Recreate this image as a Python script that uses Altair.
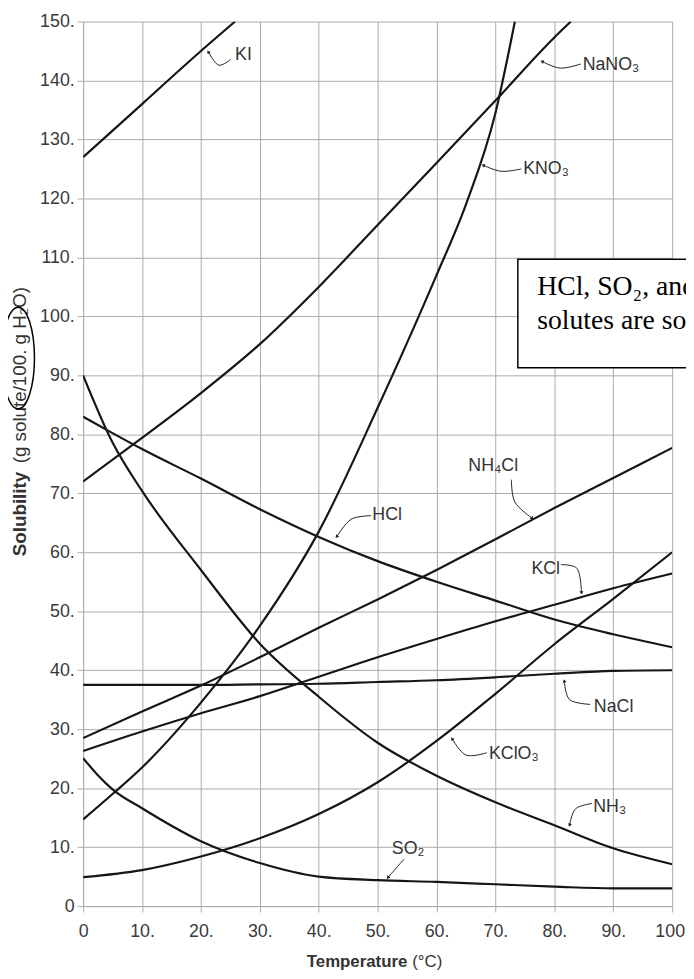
import math
import altair as alt
import pandas as pd

# ---------------- data ----------------
T10 = [0, 10, 20, 30, 40, 50, 60, 70, 80, 90, 100]

KI_t = [0, 10, 20, 25.8]
KI_v = [127, 136, 145, 150]

NaNO3_t = [0, 10, 20, 30, 40, 50, 60, 70, 80, 82.8]
NaNO3_v = [72, 79.4, 87.0, 95.3, 105, 115.5, 126, 136.6, 147.3, 150]

KNO3_t = [0, 5, 10, 20, 30, 40, 50, 60, 65, 70, 73.3]
KNO3_v = [14.7, 19.0, 23.5, 34.5, 47.5, 63.5, 84.5, 107, 119, 134.5, 150]

NH4Cl_t = T10
NH4Cl_v = [28.5, 33, 37.4, 42.2, 47.2, 52, 57, 62.2, 67.5, 72.6, 77.7]

KCl_t = T10
KCl_v = [26.3, 29.6, 32.7, 35.6, 38.9, 42.2, 45.3, 48.3, 51.1, 53.9, 56.4]

HCl_t = [0, 5, 10, 20, 30, 40, 50, 60, 70, 80, 90, 100]
HCl_v = [83, 80.2, 77.5, 72.5, 67.3, 62.6, 58.5, 55, 51.8, 48.6, 46.1, 43.9]

NaCl_t = T10
NaCl_v = [37.5, 37.5, 37.5, 37.6, 37.7, 38.0, 38.3, 38.8, 39.4, 39.9, 40.0]

KClO3_t = T10
KClO3_v = [4.9, 6.1, 8.4, 11.5, 15.6, 21, 28, 36, 44.4, 52.1, 60]

NH3_t = [0, 5, 10, 20, 30, 40, 50, 60, 70, 80, 90, 100]
NH3_v = [90, 78.6, 70.4, 57, 44.5, 35.5, 27.7, 22.1, 17.6, 13.7, 9.8, 7.1]

SO2_t = [0, 2.5, 5, 10, 20, 30, 40, 50, 60, 70, 80, 90, 100]
SO2_v = [25.1, 22.2, 19.8, 16.6, 11, 7.3, 5.0, 4.4, 4.1, 3.7, 3.3, 3.0, 3.0]

series = {
    "KI": (KI_t, KI_v), "NaNO3": (NaNO3_t, NaNO3_v), "KNO3": (KNO3_t, KNO3_v),
    "NH4Cl": (NH4Cl_t, NH4Cl_v), "KCl": (KCl_t, KCl_v), "HCl": (HCl_t, HCl_v),
    "NaCl": (NaCl_t, NaCl_v), "KClO3": (KClO3_t, KClO3_v), "NH3": (NH3_t, NH3_v),
    "SO2": (SO2_t, SO2_v),
}

# curve labels (text, left-baseline position in data units)
label_names = ["KI", "NaNO\u2083", "KNO\u2083", "NH\u2084Cl", "HCl", "KCl", "NaCl", "KClO\u2083", "NH\u2083", "SO\u2082"]
label_t = [25.8, 84.8, 74.7, 65.4, 49.1, 76.1, 86.7, 68.9, 86.6, 52.4]
label_v = [143.5, 141.8, 124.1, 73.7, 65.4, 56.4, 32.9, 24.9, 15.9, 8.9]

# leader arrows (3 points each, tail -> head)
arrow_paths = [
    [(25.1, 143.6), (23.0, 142.6), (21.3, 144.8)],
    [(84.5, 142.8), (81.0, 142.1), (78.0, 143.2)],
    [(74.4, 125.0), (71.0, 124.6), (68.0, 125.6)],
    [(72.7, 72.3), (73.3, 68.5), (76.2, 65.8)],
    [(48.9, 66.2), (45.5, 65.6), (43.1, 62.7)],
    [(81.1, 57.9), (83.9, 57.2), (84.6, 53.2)],
    [(86.1, 34.2), (82.6, 35.0), (81.7, 38.1)],
    [(68.5, 26.0), (65.0, 25.6), (62.7, 28.3)],
    [(86.4, 17.4), (83.6, 16.5), (82.6, 13.8)],
    [(54.5, 8.0), (53.2, 6.5), (51.8, 4.9)],
]

box_lines = ["HCl, SO\u2082, and NH\u2083 are gases; all other", "solutes are solids."]

# ---------------- layout ----------------
W, H = 596, 895
PX_T = W / 100.0
PX_V = H / 150.0

rows = []
for name, (ts, vs) in series.items():
    for t, v in zip(ts, vs):
        rows.append({"solute": name, "t": t, "v": v})
curves_df = pd.DataFrame(rows)

arows, heads = [], []
for i, path in enumerate(arrow_paths):
    for j, (t, v) in enumerate(path):
        arows.append({"id": i, "k": j, "t": t, "v": v})
    (t2, v2), (t3, v3) = path[-2], path[-1]
    dx = (t3 - t2) * PX_T
    dy = -(v3 - v2) * PX_V
    ang = math.degrees(math.atan2(dx, -dy)) % 360
    heads.append({"t": t3, "v": v3, "ang": ang})
arrows_df = pd.DataFrame(arows)
heads_df = pd.DataFrame(heads)
labels_df = pd.DataFrame({"name": label_names, "t": label_t, "v": label_v})

xs = alt.Scale(domain=[0, 100], nice=False, zero=False)
ys = alt.Scale(domain=[0, 150], nice=False, zero=False)

GRID = "#ababab"
AX_FONT = "Liberation Sans"

xaxis = alt.Axis(values=T10, labelExpr="datum.value == 0 ? '0' : datum.value + '.'",
                 title=None, grid=True, gridColor=GRID, gridWidth=1, domainColor=GRID,
                 tickColor=GRID, tickSize=6, labelFont=AX_FONT, labelFontSize=18,
                 labelColor="#3a3a3a", labelPadding=11, labelFlush=False)
yaxis = alt.Axis(values=list(range(0, 151, 10)),
                 labelExpr="datum.value == 0 ? '0' : datum.value + '.'",
                 title=None, grid=True, gridColor=GRID, gridWidth=1, domainColor=GRID,
                 tickColor=GRID, tickSize=6, labelFont=AX_FONT, labelFontSize=18,
                 labelColor="#3a3a3a", labelPadding=3)

curves = alt.Chart(curves_df).mark_line(
    color="#161616", strokeWidth=2.2, interpolate="monotone", clip=True
).encode(
    x=alt.X("t:Q", scale=xs, axis=xaxis),
    y=alt.Y("v:Q", scale=ys, axis=yaxis),
    detail="solute:N",
)

arrows = alt.Chart(arrows_df).mark_line(
    color="#222222", strokeWidth=1, interpolate="cardinal"
).encode(
    x=alt.X("t:Q", scale=xs), y=alt.Y("v:Q", scale=ys),
    detail="id:N", order="k:Q",
)

heads_layer = alt.Chart(heads_df).mark_point(
    shape="triangle", filled=True, size=16, color="#222222", opacity=1
).encode(
    x=alt.X("t:Q", scale=xs), y=alt.Y("v:Q", scale=ys), angle=alt.Angle("ang:Q", scale=None),
)

labels = alt.Chart(labels_df).mark_text(
    align="left", baseline="alphabetic", font=AX_FONT, fontSize=18, color="#333333"
).encode(
    x=alt.X("t:Q", scale=xs), y=alt.Y("v:Q", scale=ys), text="name:N",
)

box_df = pd.DataFrame({"t": [73.8], "t2": [115.0], "v": [91.3], "v2": [109.7]})
box = alt.Chart(box_df).mark_rect(
    fill="white", stroke="black", strokeWidth=1.5
).encode(
    x=alt.X("t:Q", scale=xs), x2="t2:Q", y=alt.Y("v:Q", scale=ys), y2="v2:Q",
)

box_text_df = pd.DataFrame({"txt": box_lines, "t": [77.1, 77.1], "v": [103.6, 97.9]})
box_text = alt.Chart(box_text_df).mark_text(
    align="left", baseline="alphabetic", font="Liberation Serif", fontSize=28, color="black"
).encode(
    x=alt.X("t:Q", scale=xs), y=alt.Y("v:Q", scale=ys), text="txt:N",
)

ytitle1 = alt.Chart(pd.DataFrame({"s": ["Solubility"]})).mark_text(
    angle=270, align="left", baseline="alphabetic", font=AX_FONT, fontSize=19,
    fontWeight="bold", color="#333333"
).encode(x=alt.value(-58), y=alt.value(541), text="s:N")

ytitle2 = alt.Chart(pd.DataFrame({"s": ["(g solute/100. g H\u2082O)"]})).mark_text(
    angle=270, align="left", baseline="alphabetic", font=AX_FONT, fontSize=19,
    color="#333333"
).encode(x=alt.value(-58), y=alt.value(447), text="s:N")

xtitle1 = alt.Chart(pd.DataFrame({"s": ["Temperature"]})).mark_text(
    align="right", baseline="alphabetic", font=AX_FONT, fontSize=17,
    fontWeight="bold", color="#333333"
).encode(x=alt.value(328), y=alt.value(957), text="s:N")

xtitle2 = alt.Chart(pd.DataFrame({"s": ["(\u00b0C)"]})).mark_text(
    align="left", baseline="alphabetic", font=AX_FONT, fontSize=17, color="#333333"
).encode(x=alt.value(333), y=alt.value(957), text="s:N")

ellipse = alt.Chart(pd.DataFrame({"s": [1]})).mark_point(
    shape="M0,-1 A0.32,1 0 1,1 0,1 A0.32,1 0 1,1 0,-1 Z",
    size=103 * 103, filled=False, stroke="black", strokeWidth=1.5, opacity=1
).encode(x=alt.value(-65.7), y=alt.value(340.5))

chart = alt.layer(
    curves, arrows, heads_layer, labels, box, box_text,
    ytitle1, ytitle2, xtitle1, xtitle2, ellipse,
).properties(
    width=W, height=H,
    autosize=alt.AutoSizeParams(type="none"),
    padding={"left": 76, "top": 8, "right": 14, "bottom": 62},
    background="white",
).configure_view(strokeWidth=0)

chart.save("out.html", embed_options={"renderer": "svg", "actions": False})
